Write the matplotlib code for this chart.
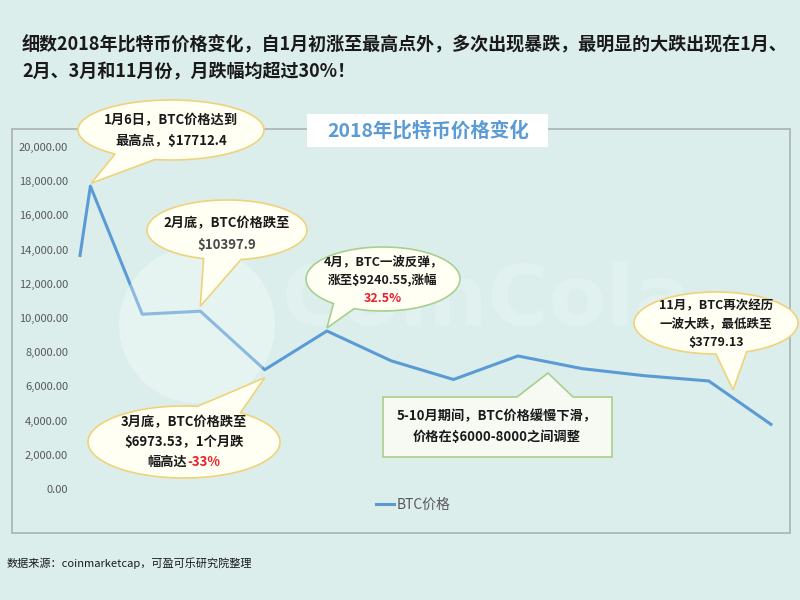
import numpy as np
import matplotlib
matplotlib.use("Agg")
import matplotlib.pyplot as plt
import matplotlib.dates as mdates
from matplotlib.patches import Polygon, Rectangle, Circle
from matplotlib.ticker import FuncFormatter

plt.rcParams['font.family'] = ['Noto Sans CJK SC', 'DejaVu Sans']

# BTC price, 2018 (coinmarketcap)
dates = ["2018-01-01", "2018-01-06", "2018-01-31", "2018-02-28", "2018-03-31",
         "2018-04-30", "2018-05-31", "2018-06-30", "2018-07-31", "2018-08-31",
         "2018-09-30", "2018-10-31", "2018-11-30"]
prices = [13657.2, 17712.4, 10221.1, 10397.9, 6973.53, 9240.55, 7494.17,
          6404.0, 7780.44, 7037.58, 6625.56, 6317.61, 3779.13]
yticks = list(range(0, 20001, 2000))

bg = "#dbeeec"
blue = "#5b9bd5"
gold = "#f0d27a"
green = "#a8cf8d"

fig = plt.figure(figsize=(8, 6), dpi=100, facecolor=bg)

# main chart, pixel box: x 80..771, y 147..489
ax = fig.add_axes([80/800, 1-489/600, (771-80)/800, (489-147)/600])
ax.set_facecolor("none")
x = np.array(dates, dtype="datetime64[D]")
ax.plot(x, prices, color=blue, lw=2.2, label="BTC价格", clip_on=False, zorder=2)
ax.set_xlim(np.datetime64("2018-01-01"), np.datetime64("2018-11-30"))
ax.set_ylim(0, 20000)
ax.set_yticks(yticks)
ax.yaxis.set_major_formatter(FuncFormatter(lambda v, p: f"{v:,.2f}"))
ax.tick_params(axis="y", length=0, pad=8.6, labelsize=8, labelcolor="#595959")
ax.set_xticks([])
for s in ax.spines.values():
    s.set_visible(False)

fig.legend(loc="center", bbox_to_anchor=(413/800, 1-505/600), frameon=False,
           handlelength=1.3, handletextpad=0.15, fontsize=10, labelcolor="#595959")

# overlay in pixel coordinates for frame, watermark and callouts
ov = fig.add_axes([0, 0, 1, 1], zorder=5)
ov.set_xlim(0, 800)
ov.set_ylim(600, 0)
ov.axis("off")
ov.patch.set_alpha(0)

ov.add_patch(Rectangle((12, 129), 778, 404, fill=False, ec="#aab3b3", lw=1.2, zorder=1))

# watermark
ov.add_patch(Circle((197, 325), 78, fc="white", ec="none", alpha=0.3, zorder=2))
ov.text(487, 302, "CoinCola", fontsize=60, fontweight="bold", color="white",
        alpha=0.18, ha="center", va="center", family="DejaVu Sans", zorder=2)

# title box
ov.add_patch(Rectangle((307, 114), 241, 33, fc="white", ec="none", zorder=3))
ov.text(428, 131, "2018年比特币价格变化", fontsize=14, fontweight="bold",
        color=blue, ha="center", va="center", zorder=4)

# header / footer
ov.text(22, 45, "细数2018年比特币价格变化，自1月初涨至最高点外，多次出现暴跌，最明显的大跌出现在1月、",
        fontsize=13, fontweight="bold", color="#1a1a1a", va="center")
ov.text(22, 72, "2月、3月和11月份，月跌幅均超过30%！",
        fontsize=13, fontweight="bold", color="#1a1a1a", va="center")
ov.text(7, 563, "数据来源：coinmarketcap，可盈可乐研究院整理", fontsize=8,
        color="#1a1a1a", va="center")


def pix(i, dx=0, dy=0):
    d = ax.transData.transform((mdates.date2num(x[i]), prices[i]))
    p = ov.transData.inverted().transform(d)
    return (p[0] + dx, p[1] + dy)


def bubble(cx, cy, w, h, tip, a1, a2, ec):
    t = np.radians(np.linspace(a2, a1 + 360, 120))
    pts = list(zip(cx + w/2*np.cos(t), cy + h/2*np.sin(t)))
    pts.append(tip)
    ov.add_patch(Polygon(pts, closed=True, fc="#fffff4", ec=ec, lw=1.2, zorder=6))


renderer = fig.canvas.get_renderer()


def line(cx, cy, parts, size=9.5):
    objs = [ov.text(0, cy, s, color=c, fontsize=size, fontweight="bold",
                    va="center", ha="left", zorder=7) for s, c in parts]
    widths = [o.get_window_extent(renderer).width for o in objs]
    x0 = cx - sum(widths) / 2
    for o, wd in zip(objs, widths):
        o.set_x(x0)
        x0 += wd


K = "#1a1a1a"
R = "#e8202a"

bubble(171, 130, 186, 60, pix(1, 1, -3), 100, 127, gold)
line(171, 120, [("1月6日，BTC价格达到", K)])
line(171, 141, [("最高点，$17712.4", K)])

bubble(227, 230, 160, 60, pix(3, 0, -5), 80, 107, gold)
line(227, 223, [("2月底，BTC价格跌至", K)])
line(227, 245, [("$10397.9", "#4a4a4a")])

bubble(184, 442, 192, 72, pix(4, 0, 8), 278, 306, gold)
line(184, 422, [("3月底，BTC价格跌至", K)])
line(184, 442, [("$6973.53，1个月跌", K)])
line(184, 462, [("幅高达", K), ("-33%", R)])

bubble(383, 279, 154, 64, pix(5, 0, -3), 112, 130, green)
line(383, 262, [("4月，BTC一波反弹，", K)], 9)
line(383, 280, [("涨至$9240.55,涨幅", K)], 9)
line(383, 298, [("32.5%", R)], 9)

bubble(716, 323, 164, 62, (733, 390), 68, 90, gold)
line(716, 306, [("11月，BTC再次经历", K)], 9)
line(716, 324, [("一波大跌，最低跌至", K)], 9)
line(716, 342, [("$3779.13", K)], 9)

rect = [(383, 397), (517, 397), (548, 373), (573, 397), (612, 397), (612, 457), (383, 457)]
ov.add_patch(Polygon(rect, closed=True, fc="#f6faf3", ec=green, lw=1.2, zorder=6))
line(497, 416, [("5-10月期间，BTC价格缓慢下滑，", K)])
line(497, 437, [("价格在$6000-8000之间调整", K)])

fig.savefig("out.png", dpi=100, facecolor=bg)
